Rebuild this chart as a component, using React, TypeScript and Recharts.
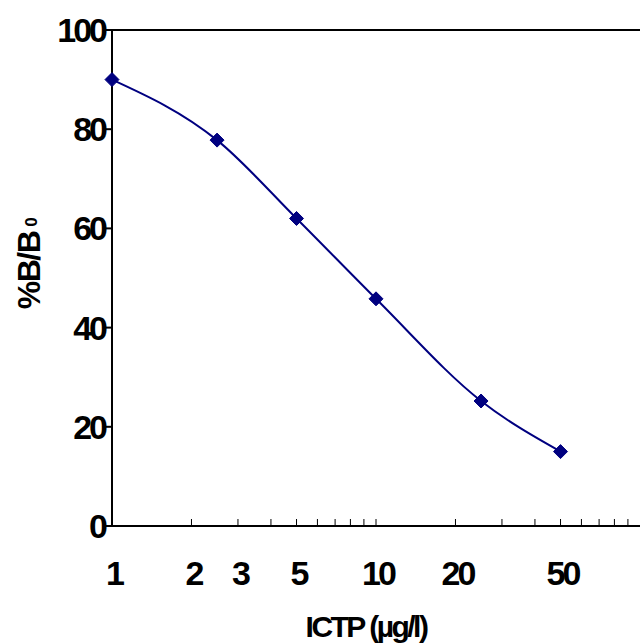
import {
  LineChart,
  Line,
  XAxis,
  YAxis,
  ReferenceLine,
  Label,
} from "recharts";

const concentrations = [1, 2.5, 5, 10, 25, 50];
const binding = [90, 77.8, 62, 45.8, 25.2, 15];

const xTicks = [1, 2, 3, 4, 5, 6, 7, 8, 9, 10, 20, 30, 40, 50, 60, 70, 80, 90, 100];
const xLabels = [1, 2, 3, 5, 10, 20, 50];
const yTicks = [0, 20, 40, 60, 80, 100];

const chartData = concentrations.map((c, i) => ({ conc: c, pct: binding[i] }));

const font = "'Liberation Sans', Arial, sans-serif";

function XTick(props: any) {
  const { x, y, payload } = props;
  const v = payload.value;
  return (
    <g>
      {v !== 1 && v !== 100 && (
        <line x1={x} x2={x} y1={y - 7} y2={y} stroke="#000" strokeWidth={1} />
      )}
      {xLabels.includes(v) && (
        <text
          x={x + 2}
          y={y + 59}
          textAnchor="middle"
          fontFamily={font}
          fontWeight="bold"
          fontSize={34}
          letterSpacing={-3}
          fill="#000"
        >
          {v}
        </text>
      )}
    </g>
  );
}

function YTick(props: any) {
  const { x, y, payload } = props;
  return (
    <text
      x={x + 2}
      y={y + 12}
      textAnchor="end"
      fontFamily={font}
      fontWeight="bold"
      fontSize={34}
      letterSpacing={-3}
      fill="#000"
    >
      {payload.value}
    </text>
  );
}

function YTitle() {
  return (
    <text
      transform="translate(40, 264) rotate(-90)"
      textAnchor="middle"
      fontFamily={font}
      fontWeight="bold"
      fontSize={32}
      letterSpacing={-1.5}
      fill="#000"
    >
      %B/B
      <tspan fontSize={17} dx={5} dy={-3}>
        0
      </tspan>
    </text>
  );
}

function Diamond(props: any) {
  const { cx, cy } = props;
  if (cx == null || cy == null) return null;
  const r = 7;
  return (
    <path
      d={`M${cx},${cy - r}L${cx + r},${cy}L${cx},${cy + r}L${cx - r},${cy}Z`}
      fill="#000080"
      stroke="#000080"
    />
  );
}

export default function App() {
  return (
    <div style={{ position: "absolute", left: 0, top: 0, width: 640, height: 643, overflow: "hidden", background: "#fff" }}>
      <LineChart
        width={640}
        height={643}
        data={chartData}
        margin={{ top: 30, right: 0, left: 0, bottom: 0 }}
      >
        <XAxis
          dataKey="conc"
          type="number"
          scale="log"
          domain={[1, 100]}
          ticks={xTicks}
          interval={0}
          tickSize={0}
          tickMargin={0}
          tick={<XTick />}
          height={117}
          stroke="#000"
          strokeWidth={2}
        >
          <Label
            value="ICTP (µg/l)"
            position="insideBottom"
            offset={6}
            dx={-10}
            fontFamily={font}
            fontWeight="bold"
            fontSize={30}
            letterSpacing={-2.5}
            fill="#000"
          />
        </XAxis>
        <YAxis
          type="number"
          domain={[0, 100]}
          ticks={yTicks}
          interval={0}
          width={112}
          tickSize={6}
          tickMargin={3}
          stroke="#000"
          strokeWidth={2}
          tick={<YTick />}
        >
          <Label content={<YTitle />} />
        </YAxis>
        <ReferenceLine y={100} stroke="#000" strokeWidth={2} />
        <Line
          dataKey="pct"
          type="monotone"
          stroke="#000080"
          strokeWidth={2}
          dot={<Diamond />}
          activeDot={false}
          isAnimationActive={false}
        />
      </LineChart>
    </div>
  );
}
